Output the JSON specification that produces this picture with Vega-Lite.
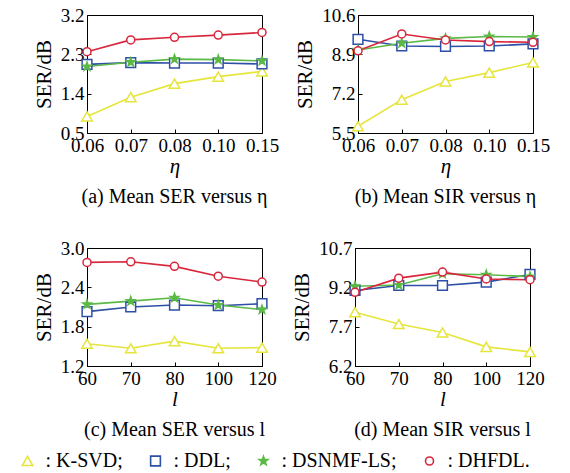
{
  "$schema": "https://vega.github.io/schema/vega-lite/v6.json",
  "background": "white",
  "padding": {"left": 17, "top": 5, "right": 5, "bottom": 5},
  "datasets": {
    "a": [
      {"x":"0.06","m":"K-SVD","v":0.88},{"x":"0.07","m":"K-SVD","v":1.32},{"x":"0.08","m":"K-SVD","v":1.63},{"x":"0.10","m":"K-SVD","v":1.79},{"x":"0.15","m":"K-SVD","v":1.91},
      {"x":"0.06","m":"DDL","v":2.07},{"x":"0.07","m":"DDL","v":2.11},{"x":"0.08","m":"DDL","v":2.10},{"x":"0.10","m":"DDL","v":2.10},{"x":"0.15","m":"DDL","v":2.08},
      {"x":"0.06","m":"DSNMF-LS","v":2.02},{"x":"0.07","m":"DSNMF-LS","v":2.12},{"x":"0.08","m":"DSNMF-LS","v":2.19},{"x":"0.10","m":"DSNMF-LS","v":2.18},{"x":"0.15","m":"DSNMF-LS","v":2.15},
      {"x":"0.06","m":"DHFDL","v":2.36},{"x":"0.07","m":"DHFDL","v":2.63},{"x":"0.08","m":"DHFDL","v":2.69},{"x":"0.10","m":"DHFDL","v":2.74},{"x":"0.15","m":"DHFDL","v":2.80}
    ],
    "b": [
      {"x":"0.06","m":"K-SVD","v":5.79},{"x":"0.07","m":"K-SVD","v":6.94},{"x":"0.08","m":"K-SVD","v":7.73},{"x":"0.10","m":"K-SVD","v":8.11},{"x":"0.15","m":"K-SVD","v":8.55},
      {"x":"0.06","m":"DDL","v":9.55},{"x":"0.07","m":"DDL","v":9.26},{"x":"0.08","m":"DDL","v":9.24},{"x":"0.10","m":"DDL","v":9.26},{"x":"0.15","m":"DDL","v":9.35},
      {"x":"0.06","m":"DSNMF-LS","v":9.09},{"x":"0.07","m":"DSNMF-LS","v":9.38},{"x":"0.08","m":"DSNMF-LS","v":9.59},{"x":"0.10","m":"DSNMF-LS","v":9.67},{"x":"0.15","m":"DSNMF-LS","v":9.65},
      {"x":"0.06","m":"DHFDL","v":9.05},{"x":"0.07","m":"DHFDL","v":9.78},{"x":"0.08","m":"DHFDL","v":9.52},{"x":"0.10","m":"DHFDL","v":9.45},{"x":"0.15","m":"DHFDL","v":9.42}
    ],
    "c": [
      {"x":"60","m":"K-SVD","v":1.54},{"x":"70","m":"K-SVD","v":1.47},{"x":"80","m":"K-SVD","v":1.58},{"x":"100","m":"K-SVD","v":1.47},{"x":"120","m":"K-SVD","v":1.48},
      {"x":"60","m":"DDL","v":2.03},{"x":"70","m":"DDL","v":2.10},{"x":"80","m":"DDL","v":2.13},{"x":"100","m":"DDL","v":2.12},{"x":"120","m":"DDL","v":2.15},
      {"x":"60","m":"DSNMF-LS","v":2.14},{"x":"70","m":"DSNMF-LS","v":2.19},{"x":"80","m":"DSNMF-LS","v":2.24},{"x":"100","m":"DSNMF-LS","v":2.13},{"x":"120","m":"DSNMF-LS","v":2.06},
      {"x":"60","m":"DHFDL","v":2.78},{"x":"70","m":"DHFDL","v":2.79},{"x":"80","m":"DHFDL","v":2.72},{"x":"100","m":"DHFDL","v":2.57},{"x":"120","m":"DHFDL","v":2.48}
    ],
    "d": [
      {"x":"60","m":"K-SVD","v":8.25},{"x":"70","m":"K-SVD","v":7.80},{"x":"80","m":"K-SVD","v":7.48},{"x":"100","m":"K-SVD","v":6.93},{"x":"120","m":"K-SVD","v":6.74},
      {"x":"60","m":"DDL","v":9.08},{"x":"70","m":"DDL","v":9.27},{"x":"80","m":"DDL","v":9.27},{"x":"100","m":"DDL","v":9.40},{"x":"120","m":"DDL","v":9.69},
      {"x":"60","m":"DSNMF-LS","v":9.24},{"x":"70","m":"DSNMF-LS","v":9.29},{"x":"80","m":"DSNMF-LS","v":9.72},{"x":"100","m":"DSNMF-LS","v":9.68},{"x":"120","m":"DSNMF-LS","v":9.61},
      {"x":"60","m":"DHFDL","v":9.01},{"x":"70","m":"DHFDL","v":9.55},{"x":"80","m":"DHFDL","v":9.78},{"x":"100","m":"DHFDL","v":9.52},{"x":"120","m":"DHFDL","v":9.49}
    ]
  },
  "spacing": 30,
  "vconcat": [
    {
      "spacing": 14,
      "hconcat": [
        {
          "width": 175, "height": 118,
          "data": {"name": "a"},
          "title": {"text": "(a) Mean SER versus η", "orient": "bottom"},
          "encoding": {
            "x": {"field": "x", "type": "ordinal", "scale": {"type": "point", "padding": 0, "domain": ["0.06","0.07","0.08","0.10","0.15"]}, "axis": {"title": "η", "labelAngle": 0}},
            "y": {"field": "v", "type": "quantitative", "scale": {"domain": [0.5, 3.2], "nice": false, "zero": false}, "axis": {"title": "SER/dB", "values": [0.5, 1.4, 2.3, 3.2], "format": ".1f"}},
            "color": {"field": "m", "type": "nominal", "scale": {"domain": ["K-SVD","DDL","DSNMF-LS","DHFDL"], "range": ["#e5e53c","#2d4fa6","#5bb946","#d8263c"]}}
          },
          "layer": [
            {"mark": {"type": "line", "strokeWidth": 1.6}},
            {"mark": {"type": "point", "filled": false, "opacity": 1, "strokeWidth": 1.5},
             "encoding": {
               "shape": {"field": "m", "type": "nominal", "scale": {"domain": ["K-SVD","DDL","DSNMF-LS","DHFDL"], "range": ["triangle-up","square","M0,-1L0.235,-0.324L0.951,-0.309L0.38,0.124L0.588,0.809L0,0.4L-0.588,0.809L-0.38,0.124L-0.951,-0.309L-0.235,-0.324Z","circle"]},
                 "legend": {"orient": "none", "legendX": -69.5, "legendY": 436, "direction": "horizontal", "columns": 4, "title": null,
                   "labelExpr": "': ' + datum.label + (datum.label === 'DHFDL' ? '.' : ';')",
                   "symbolOffset": 0, "labelOffset": 8, "columnPadding": 22,
                   "labelFont": "Liberation Serif", "labelFontSize": 20, "labelColor": "black", "symbolStrokeWidth": 1.6}},
               "fill": {"field": "m", "type": "nominal", "scale": {"domain": ["K-SVD","DDL","DSNMF-LS","DHFDL"], "range": ["white","white","#5bb946","white"]}},
               "size": {"field": "m", "type": "nominal", "scale": {"domain": ["K-SVD","DDL","DSNMF-LS","DHFDL"], "range": [110, 64, 150, 85]}}
             }}
          ]
        },
        {
          "width": 175, "height": 118,
          "data": {"name": "b"},
          "title": {"text": "(b) Mean SIR versus η", "orient": "bottom"},
          "encoding": {
            "x": {"field": "x", "type": "ordinal", "scale": {"type": "point", "padding": 0, "domain": ["0.06","0.07","0.08","0.10","0.15"]}, "axis": {"title": "η", "labelAngle": 0}},
            "y": {"field": "v", "type": "quantitative", "scale": {"domain": [5.5, 10.6], "nice": false, "zero": false}, "axis": {"title": "SER/dB", "values": [5.5, 7.2, 8.9, 10.6], "format": ".1f"}},
            "color": {"field": "m", "type": "nominal"}
          },
          "layer": [
            {"mark": {"type": "line", "strokeWidth": 1.6}},
            {"mark": {"type": "point", "filled": false, "opacity": 1, "strokeWidth": 1.5},
             "encoding": {
               "shape": {"field": "m", "type": "nominal"},
               "fill": {"field": "m", "type": "nominal"},
               "size": {"field": "m", "type": "nominal"}
             }}
          ]
        }
      ]
    },
    {
      "spacing": 14,
      "hconcat": [
        {
          "width": 175, "height": 118,
          "data": {"name": "c"},
          "title": {"text": "(c) Mean SER versus l", "orient": "bottom"},
          "encoding": {
            "x": {"field": "x", "type": "ordinal", "scale": {"type": "point", "padding": 0, "domain": ["60","70","80","100","120"]}, "axis": {"title": "l", "labelAngle": 0}},
            "y": {"field": "v", "type": "quantitative", "scale": {"domain": [1.2, 3.0], "nice": false, "zero": false}, "axis": {"title": "SER/dB", "values": [1.2, 1.8, 2.4, 3.0], "format": ".1f"}},
            "color": {"field": "m", "type": "nominal"}
          },
          "layer": [
            {"mark": {"type": "line", "strokeWidth": 1.6}},
            {"mark": {"type": "point", "filled": false, "opacity": 1, "strokeWidth": 1.5},
             "encoding": {
               "shape": {"field": "m", "type": "nominal"},
               "fill": {"field": "m", "type": "nominal"},
               "size": {"field": "m", "type": "nominal"}
             }}
          ]
        },
        {
          "width": 175, "height": 118,
          "data": {"name": "d"},
          "title": {"text": "(d) Mean SIR versus l", "orient": "bottom"},
          "encoding": {
            "x": {"field": "x", "type": "ordinal", "scale": {"type": "point", "padding": 0, "domain": ["60","70","80","100","120"]}, "axis": {"title": "l", "labelAngle": 0}},
            "y": {"field": "v", "type": "quantitative", "scale": {"domain": [6.2, 10.7], "nice": false, "zero": false}, "axis": {"title": "SER/dB", "values": [6.2, 7.7, 9.2, 10.7], "format": ".1f"}},
            "color": {"field": "m", "type": "nominal"}
          },
          "layer": [
            {"mark": {"type": "line", "strokeWidth": 1.6}},
            {"mark": {"type": "point", "filled": false, "opacity": 1, "strokeWidth": 1.5},
             "encoding": {
               "shape": {"field": "m", "type": "nominal"},
               "fill": {"field": "m", "type": "nominal"},
               "size": {"field": "m", "type": "nominal"}
             }}
          ]
        }
      ]
    }
  ],
  "config": {
    "font": "Liberation Serif",
    "view": {"stroke": "black", "strokeWidth": 1},
    "axis": {
      "grid": false,
      "domainColor": "black",
      "domainWidth": 1,
      "tickColor": "black",
      "tickSize": -4,
      "labelPadding": 7,
      "labelFont": "Liberation Serif",
      "labelFontSize": 19,
      "labelColor": "black",
      "titleFont": "Liberation Serif",
      "titleFontSize": 21,
      "titleFontWeight": "normal",
      "titleColor": "black"
    },
    "axisX": {"titleFontStyle": "italic", "titlePadding": 0, "labelPadding": 7},
    "axisY": {"titlePadding": 6},
    "title": {"font": "Liberation Serif", "fontSize": 20, "fontWeight": "normal", "color": "black", "offset": 11}
  }
}
